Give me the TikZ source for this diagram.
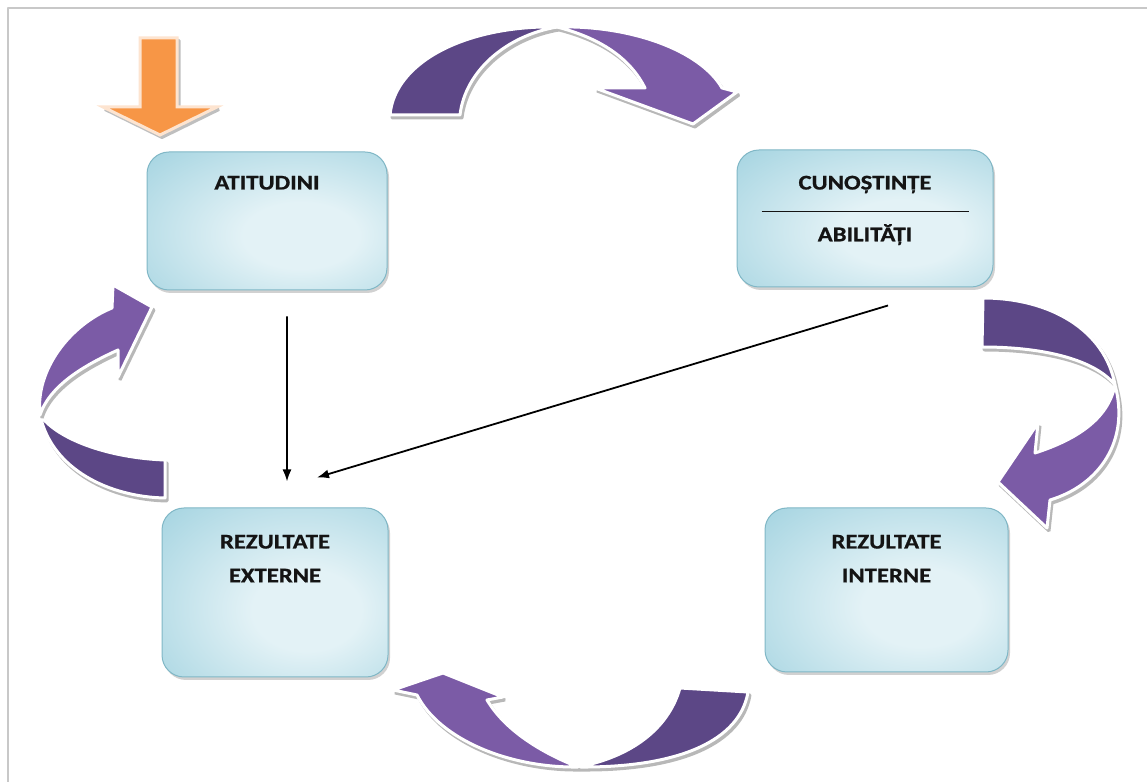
\documentclass[tikz,border=0pt]{standalone}
\usepackage{fontspec}
\newfontfamily\boxfont{Carlito Bold}[FakeStretch=1.18,FakeBold=0.9]
\usetikzlibrary{arrows.meta}
\usetikzlibrary{shadows}

\definecolor{purpdark}{HTML}{5C4786}
\definecolor{purplight}{HTML}{7B5BA6}
\definecolor{orangefill}{HTML}{F79646}
\definecolor{orangerim}{HTML}{FDE4D0}
\definecolor{boxin}{HTML}{E3F2F6}
\definecolor{boxout}{HTML}{88C6D7}
\definecolor{boxline}{HTML}{80B7C6}
\definecolor{framegray}{HTML}{C8C8C8}

\pgfdeclareradialshading{boxshade}{\pgfpoint{8bp}{-6bp}}{color(0bp)=(boxin); color(12bp)=(boxin); color(55bp)=(boxout); color(100bp)=(boxout)}

\newcommand{\boxtext}[4]{\begin{minipage}[t][#2][t]{#1}\centering\rule{0pt}{#3}#4\end{minipage}}

\tikzset{
  box/.style={draw=boxline, line width=1bp, rounded corners=22bp, shading=boxshade, inner sep=0pt,
    font=\boxfont\fontsize{21}{34}\selectfont, text=black!92,
    drop shadow={shadow xshift=2bp, shadow yshift=-3bp, fill=black!40, opacity=.45}},
  ribbondark/.style={fill=purpdark, draw=white, line width=3bp, line join=round,
    preaction={fill=black!28, draw=black!28, line width=3bp, transform canvas={shift={(2bp,-3bp)}}}},
  ribbonlight/.style={ribbondark, fill=purplight},
  conn/.style={black, line width=1.8bp, -{Latex[length=12bp,width=9bp]}},
}

\begin{document}
\begin{tikzpicture}[>=latex,line join=bevel,]
\useasboundingbox (0,0) rectangle (1147bp,782bp);
%%
\draw [framegray,line width=2bp] (8bp,0bp) -- (8bp,774bp) -- (1147bp,774bp);
%
\node (node_att) at (267bp,561bp) [box] {\boxtext{240bp}{138bp}{37.5bp}{ATITUDINI}};
  \node (node_cun) at (865bp,563.5bp) [box,font=\boxfont\fontsize{21}{26}\selectfont] {\boxtext{256bp}{137bp}{39.5bp}{CUNOȘTINȚE\\\raisebox{3.5bp}{\rule{207bp}{1.3bp}}\\ABILITĂȚI}};
  \node (node_ext) at (275bp,189.5bp) [box] {\boxtext{226bp}{169bp}{40.5bp}{REZULTATE\\EXTERNE}};
  \node (node_int) at (886.5bp,192bp) [box] {\boxtext{243bp}{164bp}{40.5bp}{REZULTATE\\INTERNE}};
  \draw [conn] ([xshift=20bp,yshift=-26bp]node_att.south) -- ([xshift=12bp,yshift=26bp]node_ext.north);
  \draw [conn] ([xshift=23bp,yshift=-18bp]node_cun.south) -- ([xshift=42bp,yshift=30bp]node_ext.north);
%
\fill [orangefill,draw=orangerim,line width=3bp,line join=miter,
  preaction={fill=black!25,draw=black!25,line width=3bp,transform canvas={shift={(2bp,-2.5bp)}}}]
  (140bp,744bp) -- (177bp,744bp) -- (177bp,675bp) -- (217bp,675bp) -- (160bp,647bp) -- (103bp,675bp) -- (140bp,675bp) -- cycle;
%
\path [ribbondark] (390bp,667bp) ..controls (395bp,722bp) and (470bp,757bp) .. (557bp,755bp)
  ..controls (505bp,746bp) and (465bp,710bp) .. (460bp,667bp) -- cycle;
  \path [ribbonlight] (557bp,755bp) ..controls (630bp,757bp) and (700bp,732bp) .. (722bp,694bp)
  -- (737bp,690bp) -- (693bp,658bp) -- (595bp,694bp) -- (645bp,694bp)
  ..controls (630bp,724bp) and (600bp,744bp) .. (557bp,755bp) -- cycle;
%
\path [ribbondark] (983bp,484bp) ..controls (1050bp,484bp) and (1105bp,452bp) .. (1115bp,397bp)
  ..controls (1095bp,422bp) and (1045bp,435bp) .. (982bp,435bp) -- cycle;
  \path [ribbonlight] (1115bp,397bp) ..controls (1130bp,342bp) and (1100bp,297bp) .. (1050bp,282bp)
  -- (1047bp,254bp) -- (998bp,300bp) -- (1038bp,359bp) -- (1035bp,329bp)
  ..controls (1075bp,342bp) and (1108bp,362bp) .. (1115bp,397bp) -- cycle;
%
\path [ribbondark] (680bp,94bp) -- (748bp,90bp) ..controls (740bp,42bp) and (680bp,14bp) .. (578bp,15bp)
  ..controls (630bp,25bp) and (668bp,52bp) .. (680bp,94bp) -- cycle;
  \path [ribbonlight] (578bp,15bp) ..controls (510bp,14bp) and (440bp,42bp) .. (417bp,87bp)
  -- (393bp,92bp) -- (443bp,109bp) -- (503bp,85bp) -- (487bp,82bp)
  ..controls (505bp,52bp) and (540bp,30bp) .. (578bp,15bp) -- cycle;
%
\path [ribbondark] (165bp,322bp) -- (165bp,284bp) ..controls (110bp,285bp) and (52bp,312bp) .. (40bp,367bp)
  ..controls (58bp,342bp) and (110bp,324bp) .. (165bp,322bp) -- cycle;
  \path [ribbonlight] (40bp,367bp) ..controls (35bp,412bp) and (70bp,457bp) .. (112bp,474bp)
  -- (113bp,497bp) -- (152bp,475bp) -- (118bp,405bp) -- (118bp,432bp)
  ..controls (85bp,417bp) and (50bp,397bp) .. (40bp,367bp) -- cycle;
%
\end{tikzpicture}
\end{document}
